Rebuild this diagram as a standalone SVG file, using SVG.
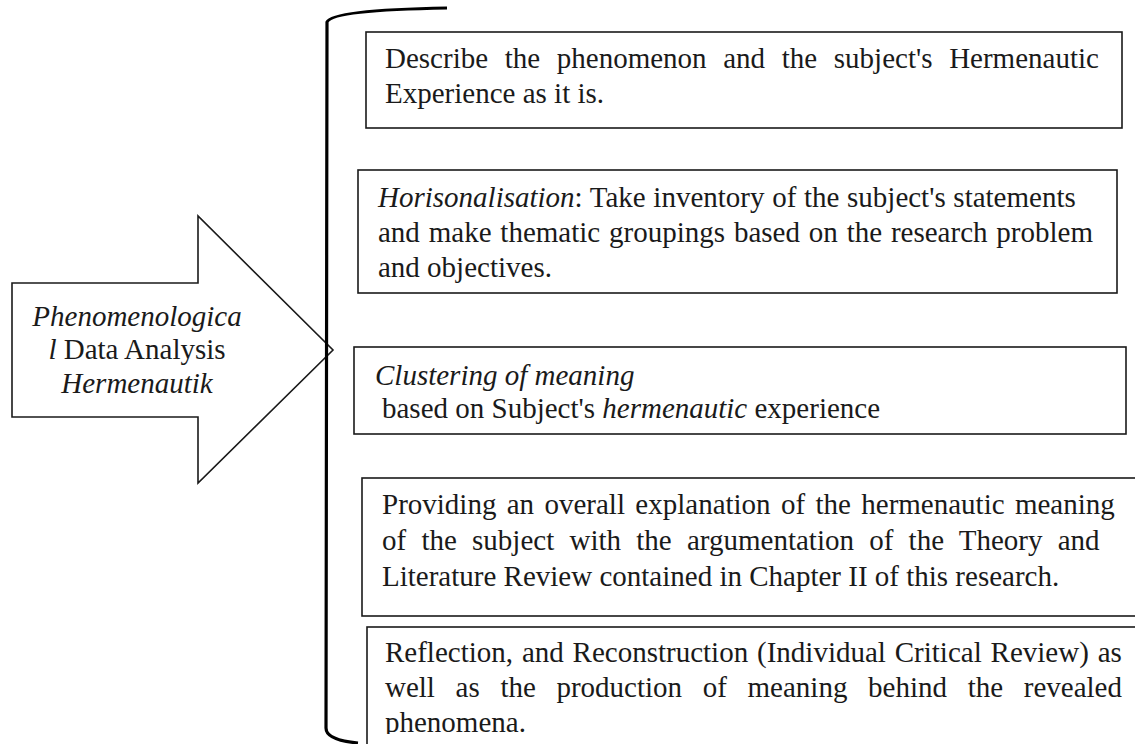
<svg xmlns="http://www.w3.org/2000/svg" width="1135" height="744" viewBox="0 0 1135 744">
<style>
.box{fill:#fff;stroke:#1a1a1a;stroke-width:1.6}
.t{font-family:"Liberation Serif","Times New Roman",serif;font-size:29px;fill:#1a1a1a}
.i{font-style:italic}
.bracket{fill:none;stroke:#000;stroke-width:3.2}
</style>
<defs>
<clipPath id="clip5"><rect x="360" y="620" width="780" height="114"/></clipPath>
</defs>
<rect width="1135" height="744" fill="#fff"/>
<g id="arrow">
<polygon class="box" points="12,283 198,283 198,216 333,350 198,483 198,417 12,417"/>
<text class="t i" x="137" y="326" text-anchor="middle">Phenomenologica</text>
<text class="t" x="137" y="359" text-anchor="middle"><tspan class="i">l</tspan> Data Analysis</text>
<text class="t i" x="137" y="393" text-anchor="middle">Hermenautik</text>
</g>
<g id="connectors">
<path class="bracket" d="M447,8 Q332,10 327,22 L326,728 Q326,740 358,743"/>
</g>
<g id="box1">
<rect class="box" x="366" y="32" width="756" height="96"/>
<text class="t" x="385" y="68" style="word-spacing:9.4px">Describe the phenomenon and the subject's Hermenautic</text>
<text class="t" x="385" y="103">Experience as it is.</text>
</g>
<g id="box2">
<rect class="box" x="358" y="170" width="759" height="123"/>
<text class="t" x="378" y="207" style="word-spacing:0.4px"><tspan class="i">Horisonalisation</tspan>: Take inventory of the subject's statements</text>
<text class="t" x="378" y="242" style="word-spacing:1.6px">and make thematic groupings based on the research problem</text>
<text class="t" x="378" y="277">and objectives.</text>
</g>
<g id="box3">
<rect class="box" x="354" y="347" width="772" height="87"/>
<text class="t i" x="375" y="385">Clustering of meaning</text>
<text class="t" x="382" y="418">based on Subject's <tspan class="i">hermenautic</tspan> experience</text>
</g>
<g id="box4">
<rect class="box" x="362" y="478" width="790" height="138"/>
<text class="t" x="382" y="514" style="word-spacing:3.1px">Providing an overall explanation of the hermenautic meaning</text>
<text class="t" x="382" y="550" style="word-spacing:8px">of the subject with the argumentation of the Theory and</text>
<text class="t" x="382" y="586">Literature Review contained in Chapter II of this research.</text>
</g>
<g id="box5">
<rect class="box" x="367" y="627" width="790" height="140"/>
<g clip-path="url(#clip5)">
<text class="t" x="385" y="662" style="word-spacing:1.6px">Reflection, and Reconstruction (Individual Critical Review) as</text>
<text class="t" x="385" y="697" style="word-spacing:13.4px">well as the production of meaning behind the revealed</text>
<text class="t" x="385" y="732">phenomena.</text>
</g>
</g>
</svg>
